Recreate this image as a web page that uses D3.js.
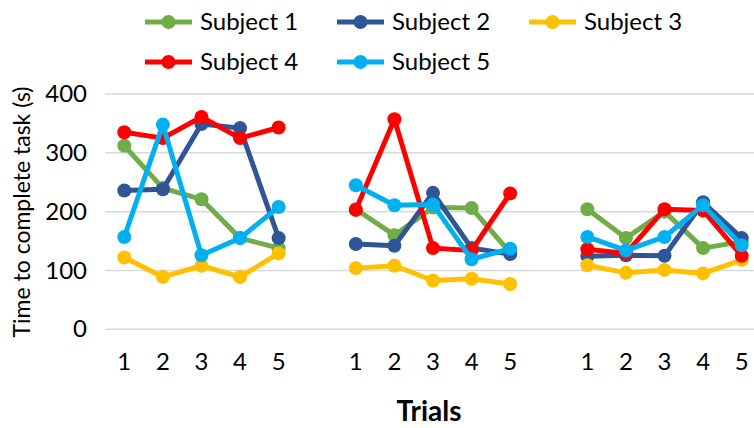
<!DOCTYPE html>
<html>
<head>
<meta charset="utf-8">
<script src="https://cdn.jsdelivr.net/npm/d3@7"></script>
<style>
  html, body { margin: 0; padding: 0; background: #fff; }
  svg { display: block; font-family: Lato, "Open Sans", sans-serif; }
</style>
</head>
<body>
<svg id="chart" width="754" height="428"></svg>
<script>
// Three sessions of five trials each; one empty slot separates sessions.
const sessions = ["A", "B", "C"];
const trials = [1, 2, 3, 4, 5];
const yTicks = [0, 100, 200, 300, 400];

const subjectNames = ["Subject 1", "Subject 2", "Subject 3", "Subject 4", "Subject 5"];
const subjectColors = ["#70AD47", "#2F5597", "#FFC000", "#FF0000", "#00B0F0"];

// Time to complete task (s), session A trials 1-5, then B, then C
const subject1 = [312, 240, 221, 155, 138,  204, 160, 207, 206, 130,  204, 155, 200, 138, 149];
const subject2 = [236, 238, 349, 342, 155,  145, 142, 232, 138, 128,  124, 126, 125, 216, 155];
const subject3 = [122,  89, 108,  89, 129,  104, 108,  83,  86,  77,  109,  96, 101,  95, 118];
const subject4 = [335, 325, 361, 325, 343,  203, 357, 138, 134, 231,  136, 129, 204, 202, 125];
const subject5 = [157, 348, 126, 155, 208,  245, 211, 212, 119, 137,  157, 134, 157, 211, 143];
const series = [subject1, subject2, subject3, subject4, subject5];

const svg = d3.select("#chart");

// Slot keys: each session's trials followed by a blank slot (except after the last)
const slots = [];
sessions.forEach((s, i) => {
  trials.forEach(t => slots.push(s + t));
  if (i < sessions.length - 1) slots.push("gap" + s);
});

const x = d3.scaleBand().domain(slots).range([105, 761]).padding(0);
const y = d3.scaleLinear().domain([0, 400]).range([329.3, 94]);
const cx = key => x(key) + x.bandwidth() / 2;

// Gridlines
svg.append("g")
  .selectAll("line")
  .data(yTicks)
  .join("line")
  .attr("x1", 105).attr("x2", 761)
  .attr("y1", d => y(d)).attr("y2", d => y(d))
  .attr("stroke", "#D9D9D9")
  .attr("stroke-width", 1.5);

// Y axis labels
const yAxis = d3.axisLeft(y).tickValues(yTicks).tickSize(0).tickPadding(0);
const yg = svg.append("g").attr("transform", "translate(87,0)").call(yAxis);
yg.select(".domain").remove();
yg.selectAll("text")
  .attr("font-size", 24)
  .attr("font-family", "Lato, sans-serif")
  .attr("fill", "#000");

// X axis labels (trial numbers, blanks for gap slots)
const xAxis = d3.axisBottom(x).tickSize(0).tickPadding(0)
  .tickFormat(d => d.startsWith("gap") ? "" : d.slice(1));
const xg = svg.append("g").attr("transform", "translate(0,353)").call(xAxis);
xg.select(".domain").remove();
xg.selectAll("text")
  .attr("font-size", 24)
  .attr("font-family", "Lato, sans-serif")
  .attr("fill", "#000");

// Axis titles
svg.append("text")
  .attr("transform", "translate(30,212) rotate(-90)")
  .attr("text-anchor", "middle")
  .attr("font-size", 23)
  .attr("fill", "#000")
  .text("Time to complete task (s)");

svg.append("text")
  .attr("x", 429).attr("y", 421)
  .attr("text-anchor", "middle")
  .attr("font-size", 28)
  .attr("font-weight", "bold")
  .attr("fill", "#000")
  .text("Trials");

// Lines and markers, one segment per session
const line = d3.line().x(d => cx(d.key)).y(d => y(d.value));

series.forEach((vals, si) => {
  const g = svg.append("g");
  const pts = [];
  sessions.forEach((s, gi) => {
    const seg = trials.map((t, ti) => ({ key: s + t, value: vals[gi * trials.length + ti] }));
    pts.push(...seg);
    g.append("path")
      .datum(seg)
      .attr("d", line)
      .attr("fill", "none")
      .attr("stroke", subjectColors[si])
      .attr("stroke-width", 5)
      .attr("stroke-linejoin", "round");
  });
  g.selectAll("circle")
    .data(pts)
    .join("circle")
    .attr("cx", d => cx(d.key))
    .attr("cy", d => y(d.value))
    .attr("r", 7)
    .attr("fill", subjectColors[si]);
});

// Legend: two rows
const legendPos = [[145, 22], [337, 22], [529, 22], [145, 62], [337, 62]];
subjectNames.forEach((name, i) => {
  const [lx, ly] = legendPos[i];
  const g = svg.append("g").attr("transform", `translate(${lx},${ly})`);
  g.append("line")
    .attr("x1", 0).attr("x2", 47).attr("y1", 0).attr("y2", 0)
    .attr("stroke", subjectColors[i]).attr("stroke-width", 5);
  g.append("circle").attr("cx", 23.5).attr("cy", 0).attr("r", 7).attr("fill", subjectColors[i]);
  g.append("text")
    .attr("x", 55).attr("y", 0).attr("dy", "0.35em")
    .attr("font-size", 24)
    .attr("fill", "#000")
    .text(name);
});
</script>
</body>
</html>
